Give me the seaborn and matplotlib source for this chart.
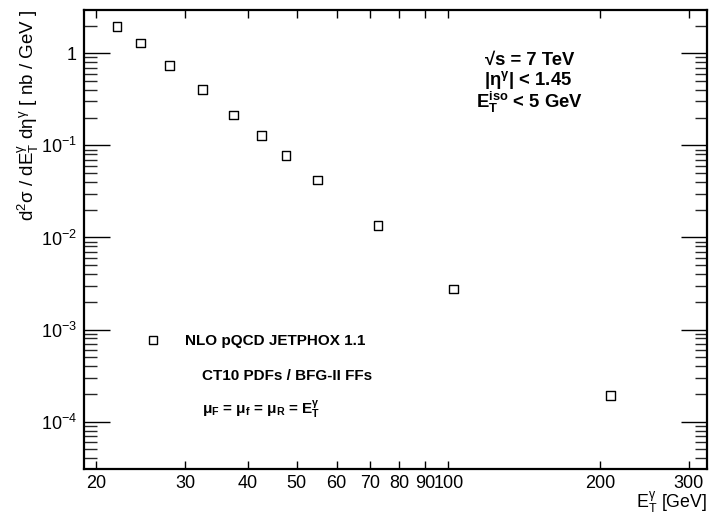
import math
import matplotlib
matplotlib.use("Agg")
import matplotlib.pyplot as plt
import matplotlib.ticker as mticker
from matplotlib.lines import Line2D
import seaborn as sns
import pandas as pd

# Isolated prompt photon cross section, NLO prediction
et_gamma = [22.0, 24.5, 28.0, 32.5, 37.5, 42.5, 47.6, 55.0, 72.5, 102.5, 210.0]
dsigma = [1.965, 1.294, 0.733, 0.4065, 0.2138, 0.1274, 0.0781, 0.0421,
          0.01343, 0.00276, 1.915e-4]
x_tick_values = [20, 30, 40, 50, 60, 70, 80, 90, 100, 200, 300]
x_tick_labels = ["20", "30", "40", "50", "60", "70", "80", "90", "100", "200", "300"]
series_label = "NLO pQCD JETPHOX 1.1"

sns.set_style("ticks")
plt.rcParams["font.family"] = ["Liberation Sans", "DejaVu Sans"]
plt.rcParams["mathtext.default"] = "regular"
plt.rcParams["axes.unicode_minus"] = False
plt.rcParams["text.color"] = "black"

df = pd.DataFrame({"et": et_gamma, "xs": dsigma})

fig = plt.figure(figsize=(7.10, 5.16), dpi=100)
ax = fig.add_axes([0.1183, 0.0911, 0.8771, 0.8895])

sns.scatterplot(data=df, x="et", y="xs", ax=ax, marker="s", s=40,
                facecolor="none", edgecolor="black", linewidth=1.0,
                label=series_label, legend=False)

ax.set_xscale("log")
ax.set_yscale("log")
ax.set_xlim(18.91, 326)
ax.set_ylim(3.06e-5, 2.95)

# x axis: labelled ticks plus a long decade tick at 100
ax.xaxis.set_major_locator(mticker.FixedLocator(x_tick_values))
ax.xaxis.set_major_formatter(mticker.FixedFormatter(x_tick_labels))
ax.xaxis.set_minor_locator(mticker.FixedLocator([100]))
ax.xaxis.set_minor_formatter(mticker.NullFormatter())


def decade_fmt(v, pos):
    if abs(v - 1) < 1e-9:
        return "1"
    e = int(round(math.log10(v)))
    return r"$10^{%d}$" % e


ax.yaxis.set_major_locator(mticker.LogLocator(base=10, numticks=20))
ax.yaxis.set_major_formatter(mticker.FuncFormatter(decade_fmt))
ax.yaxis.set_minor_locator(mticker.LogLocator(base=10, subs=range(2, 10), numticks=20))
ax.yaxis.set_minor_formatter(mticker.NullFormatter())

ax.tick_params(axis="x", which="major", direction="in", length=6, width=1.0,
               top=True, bottom=True, labelsize=13, pad=4, colors="black")
ax.tick_params(axis="x", which="minor", direction="in", length=13, width=1.0,
               top=True, bottom=True)
ax.tick_params(axis="y", which="major", direction="in", length=19, width=1.0,
               left=True, right=True, labelsize=13, pad=5, colors="black")
ax.tick_params(axis="y", which="minor", direction="in", length=9, width=1.0,
               left=True, right=True)

for sp in ax.spines.values():
    sp.set_visible(True)
    sp.set_linewidth(1.6)
    sp.set_color("black")

ax.set_xlabel("")
ax.set_ylabel("")

fig.text(0.9954, 0.001, r"$E_{T}^{\gamma}$ [GeV]", ha="right", va="bottom",
         fontsize=12.8)
fig.text(0.040, 0.9806, r"$d^{2}\sigma$ / $dE_{T}^{\gamma}$ $d\eta^{\gamma}$ [ nb / GeV ]",
         rotation=90, ha="center", va="top", fontsize=13.5)

# beam / kinematic conditions
fig.text(0.746, 1 - 60 / 516, "\u221as = 7 TeV", ha="center", va="center",
         fontsize=13.3, fontweight="bold")
fig.text(0.744, 1 - 80 / 516, r"|$\eta^{\gamma}$| < 1.45", ha="center", va="center",
         fontsize=13.3, fontweight="bold")
fig.text(0.746, 1 - 102 / 516, r"$E_{T}^{iso}$ < 5 GeV", ha="center", va="center",
         fontsize=13.3, fontweight="bold")

# legend and theory settings
handle = Line2D([], [], linestyle="none", marker="s", markersize=6.3,
                markerfacecolor="none", markeredgecolor="black", markeredgewidth=1.0)
leg = ax.legend([handle], [series_label], loc="center left",
                bbox_to_anchor=(145 / 710, 1 - 341 / 516), bbox_transform=fig.transFigure,
                frameon=False, handlelength=1.0, handletextpad=1.6, borderpad=0,
                borderaxespad=0, prop={"weight": "bold", "size": 11})
for t in leg.get_texts():
    t.set_color("black")
fig.text(202 / 710, 1 - 376 / 516, "CT10 PDFs / BFG-II FFs", ha="left", va="center",
         fontsize=11, fontweight="bold")
fig.text(202 / 710, 1 - 409 / 516,
         r"$\mu_{F}$ = $\mu_{f}$ = $\mu_{R}$ = $E_{T}^{\gamma}$",
         ha="left", va="center", fontsize=11, fontweight="bold")

fig.savefig("out.png", dpi=100)
